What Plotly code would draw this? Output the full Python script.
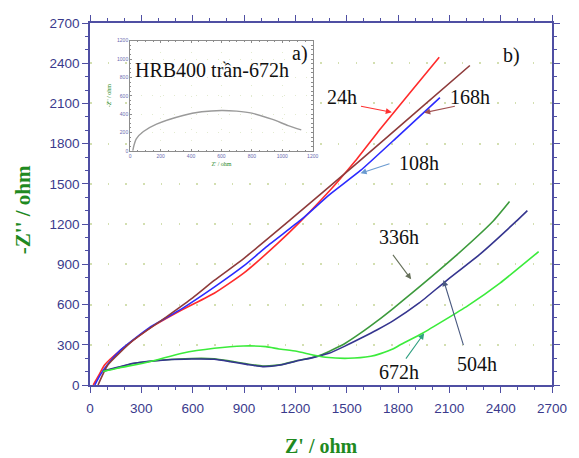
import plotly.graph_objects as go

# Nyquist data (Z' , -Z'') for bare HRB400 steel at different immersion times
z_re_24h = [19, 50, 85, 179, 349, 538, 726, 900, 1100, 1226, 1350, 1450, 1550, 1700, 1870, 2041]
z_im_24h = [0, 70, 149, 261, 423, 560, 684, 836, 1060, 1215, 1380, 1520, 1670, 1915, 2180, 2445]

z_re_108h = [28, 60, 100, 179, 349, 538, 726, 900, 1050, 1236, 1400, 1581, 1800, 2045]
z_im_108h = [0, 75, 150, 262, 430, 570, 730, 890, 1050, 1235, 1420, 1600, 1855, 2144]

z_re_168h = [47, 104, 255, 443, 600, 726, 900, 1170, 1547, 1900, 2220]
z_im_168h = [0, 149, 336, 505, 650, 780, 945, 1231, 1640, 2030, 2383]

z_re_336h = [75, 160, 255, 443, 594, 726, 821, 915, 1009, 1110, 1207, 1300, 1358, 1490, 1585,
             1679, 1773, 1886, 2132, 2358, 2452]
z_im_336h = [100, 128, 160, 188, 198, 196, 178, 158, 142, 150, 180, 205, 228, 310, 390,
             478, 572, 690, 957, 1225, 1368]

z_re_504h = [75, 160, 255, 443, 594, 726, 821, 915, 1009, 1113, 1207, 1302, 1396, 1490, 1585,
             1679, 1773, 1924, 2075, 2283, 2490, 2556]
z_im_504h = [105, 132, 162, 187, 194, 192, 174, 154, 137, 149, 179, 204, 236, 290, 350,
             412, 480, 612, 770, 980, 1220, 1301]

z_re_672h = [75, 160, 349, 538, 726, 896, 1028, 1104, 1207, 1302, 1377, 1509, 1641, 1698, 1773,
             1811, 1943, 2207, 2396, 2622]
z_im_672h = [100, 125, 174, 237, 274, 291, 286, 269, 252, 224, 207, 199, 214, 234, 270,
             298, 386, 590, 760, 995]

# Inset: bare HRB400 after 672 h
inset_re = [17, 25, 40, 87, 173, 347, 470, 600, 700, 800, 931, 1039, 1125]
inset_im = [0, 60, 130, 210, 290, 385, 425, 440, 432, 410, 345, 275, 228]

series = [
    ("24h", z_re_24h, z_im_24h, "#FF2B2B"),
    ("108h", z_re_108h, z_im_108h, "#2B2BFF"),
    ("168h", z_re_168h, z_im_168h, "#8E3B3B"),
    ("336h", z_re_336h, z_im_336h, "#3C9A3C"),
    ("504h", z_re_504h, z_im_504h, "#35358F"),
    ("672h", z_re_672h, z_im_672h, "#3BEB3B"),
]

# label text position, arrow tail, arrow head, arrow colour
labels = [
    ("24h", (1472, 2150), (1575, 2081), (1764, 2034), "#FF3030"),
    ("168h", (2223, 2150), (2141, 2081), (1953, 2031), "#A05050"),
    ("108h", (1921, 1654), (1759, 1654), (1581, 1579), "#6A9AD0"),
    ("336h", (1807, 1102), (1764, 982), (1877, 788), "#66705A"),
    ("504h", (2264, 157), (2185, 286), (2066, 783), "#4A5A80"),
    ("672h", (1807, 99), (1840, 186), (1953, 386), "#30A080"),
]

axis_blue = "#4F4FA3"
tick_blue = "#3A3A8C"
title_green = "#1F8A1F"
grid_dot = "#D3DFB0"
serif = "Liberation Serif, Times New Roman, serif"
narrow = "Liberation Sans Narrow, Arial Narrow, Liberation Sans, Arial, sans-serif"

tickfont = dict(family=narrow, size=13.5, color=tick_blue)

fig = go.Figure()

for name, xs, ys, col in series:
    fig.add_trace(go.Scatter(x=xs, y=ys, mode="lines", name=name,
                             line=dict(color=col, width=1.6, shape="spline", smoothing=0.5),
                             xaxis="x", yaxis="y"))

fig.add_trace(go.Scatter(x=inset_re, y=inset_im, mode="lines", name="672h inset",
                         line=dict(color="#9A9A9A", width=1.4, shape="spline", smoothing=0.8),
                         xaxis="x2", yaxis="y2"))

main_axis = dict(
    range=[0, 2700], dtick=300, tick0=0,
    showline=True, linecolor=axis_blue, linewidth=1.5, mirror="allticks",
    ticks="outside", ticklen=6, tickwidth=1.2, tickcolor=axis_blue,
    minor=dict(dtick=100, ticks="outside", ticklen=3, tickcolor=axis_blue, tickwidth=1),
    tickfont=tickfont,
    zeroline=False,
)

inset_axis = dict(
    range=[0, 1200], dtick=200, tick0=0,
    showline=True, linecolor="#8C8C8C", linewidth=1, mirror="allticks",
    ticks="inside", ticklen=2, tickwidth=0.8, tickcolor="#8C8C8C",
    minor=dict(dtick=50, ticks="inside", ticklen=1.2, tickcolor="#8C8C8C"),
    tickfont=dict(family="Liberation Sans, Arial", size=5, color="#6A6AB0"),
    showgrid=True, gridcolor="#E2EAD0", gridwidth=1, griddash="1px,10px",
    zeroline=False,
)

fig.update_layout(
    width=579, height=458,
    margin=dict(l=90, r=12, t=23, b=73),
    paper_bgcolor="white", plot_bgcolor="white",
    showlegend=False,
    xaxis=dict(main_axis, domain=[0, 1], anchor="y", showgrid=False, ticklabelstandoff=4),
    yaxis=dict(main_axis, domain=[0, 1], anchor="x", showgrid=True, gridcolor=grid_dot,
               gridwidth=1.6, griddash="1.6px,16.1px"),
    xaxis2=dict(inset_axis, domain=[0.087, 0.482], anchor="y2",
                title=dict(text="Z' / ohm", font=dict(family=serif, size=6, color=title_green),
                           standoff=4)),
    yaxis2=dict(inset_axis, domain=[0.647, 0.951], anchor="x2",
                title=dict(text="-Z'' / ohm", font=dict(family=serif, size=6, color=title_green),
                           standoff=4)),
)

# white panel behind the inset
fig.add_shape(type="rect", xref="x2", yref="y2", x0=0, x1=1200, y0=0, y1=1200,
              fillcolor="white", line=dict(width=0), layer="below")

annotations = []
for text, (tx, ty), (ax, ay), (hx, hy), col in labels:
    annotations.append(dict(x=hx, y=hy, ax=ax, ay=ay, xref="x", yref="y", axref="x", ayref="y",
                            text="", showarrow=True, arrowhead=2, arrowsize=1.1, arrowwidth=1.1,
                            arrowcolor=col, standoff=0, startstandoff=0))
    annotations.append(dict(x=tx, y=ty, xref="x", yref="y", text=text, showarrow=False,
                            font=dict(family=serif, size=20, color="#111111")))

annotations += [
    dict(x=2462, y=2454, xref="x", yref="y", text="b)", showarrow=False,
         font=dict(family=serif, size=20, color="#111111")),
    dict(x=1227, y=2474, xref="x", yref="y", text="a)", showarrow=False,
         font=dict(family=serif, size=20, color="#111111")),
    dict(x=713, y=2350, xref="x", yref="y", text="HRB400 trần-672h", showarrow=False,
         font=dict(family=serif, size=20, color="#111111")),
    dict(x=0.5, y=-0.168, xref="paper", yref="paper", text="<b>Z' / ohm</b>", showarrow=False,
         yanchor="middle", font=dict(family=serif, size=20, color=title_green)),
    dict(x=-0.145, y=0.483, xref="paper", yref="paper", text="<b>-Z'' / ohm</b>", showarrow=False,
         textangle=-90, xanchor="center", font=dict(family=serif, size=21, color=title_green)),
]
fig.update_layout(annotations=annotations)

fig.write_html("out.html")
